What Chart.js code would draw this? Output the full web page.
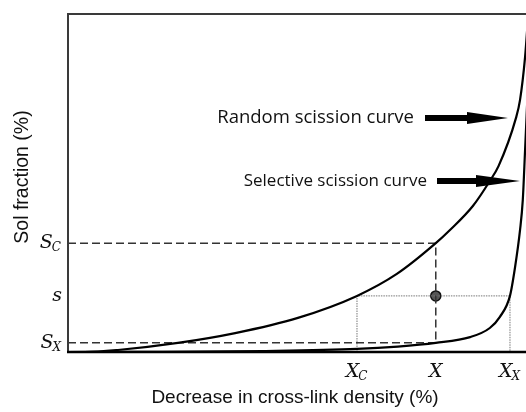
<!DOCTYPE html>
<html lang="en">
<head>
    <meta charset="UTF-8">
    <title>Sol fraction vs cross-link density</title>
    <script src="https://cdn.jsdelivr.net/npm/chart.js"></script>
    <style>
        html, body { margin: 0; padding: 0; background: #fff; }
        #wrap { width: 526px; height: 412px; }
    </style>
</head>
<body>
    <div id="wrap"><canvas id="solChart" width="526" height="412"></canvas></div>

    <script>
        // Random scission curve (x = decrease in cross-link density, y = sol fraction)
        const randomX = [0, 3.7, 10.9, 24.0, 36.5, 50.2, 63.1, 71.8, 80.3, 83.4, 88.4, 92.1, 94.0, 97.8, 98.7, 99.8, 100.5];
        const randomY = [0, 0, 0.6, 2.7, 5.6, 10.1, 16.6, 23.1, 32.2, 36.1, 43.2, 50.6, 55.0, 69.2, 74.6, 87.3, 100];

        // Selective scission curve
        const selectiveX = [0, 20.0, 42.6, 63.1, 72.0, 80.3, 87.8, 92.1, 94.3, 96.5, 97.6, 98.7, 99.3, 99.8, 100.3];
        const selectiveY = [0, 0.05, 0.3, 0.9, 1.6, 2.7, 4.4, 7.1, 10.4, 16.6, 25.0, 36.1, 45.0, 59.8, 75.0];

        // marked positions on the axes
        const xTickValues = [63.1, 80.3, 96.5];
        const xTickLabels = ['X_C', 'X', 'X_X'];
        const yTickValues = [32.2, 16.6, 2.7];
        const yTickLabels = ['S_C', 's', 'S_X'];

        const Xc = xTickValues[0], X = xTickValues[1], Xx = xTickValues[2];
        const Sc = yTickValues[0], s = yTickValues[1], Sx = yTickValues[2];

        function toPoints(xs, ys) {
            return xs.map((x, i) => ({ x: x, y: ys[i] }));
        }

        // draws the frame, the S/X labels, the axis titles and the two arrows
        const decorations = {
            id: 'decorations',
            afterDraw(chart) {
                const ctx = chart.ctx;
                const area = chart.chartArea;
                const xs = chart.scales.x;
                const ys = chart.scales.y;

                ctx.save();

                // frame
                ctx.strokeStyle = '#3a3a3a';
                ctx.lineWidth = 2;
                ctx.beginPath();
                ctx.moveTo(area.left, area.bottom);
                ctx.lineTo(area.left, area.top);
                ctx.lineTo(area.right + 2, area.top);
                ctx.stroke();
                ctx.strokeStyle = '#000';
                ctx.lineWidth = 2.5;
                ctx.beginPath();
                ctx.moveTo(area.left - 1, area.bottom);
                ctx.lineTo(area.right + 2, area.bottom);
                ctx.stroke();

                // italic labels with a subscript
                function subLabel(text, px, py, align) {
                    const parts = text.split('_');
                    const main = parts[0], sub = parts[1] || '';
                    ctx.font = 'italic 19px "DejaVu Serif"';
                    const w1 = ctx.measureText(main).width;
                    ctx.font = 'italic 12px "DejaVu Serif"';
                    const w2 = ctx.measureText(sub).width;
                    let x0 = px;
                    if (align === 'center') x0 = px - (w1 + w2) / 2;
                    if (align === 'right') x0 = px - (w1 + w2);
                    ctx.fillStyle = '#111';
                    ctx.textAlign = 'left';
                    ctx.textBaseline = 'middle';
                    ctx.font = 'italic 19px "DejaVu Serif"';
                    ctx.fillText(main, x0, py);
                    if (sub) {
                        ctx.font = 'italic 12px "DejaVu Serif"';
                        ctx.fillText(sub, x0 + w1 - 1, py + 5);
                    }
                }

                yTickValues.forEach((v, i) => {
                    subLabel(yTickLabels[i], area.left - 6, ys.getPixelForValue(v), 'right');
                });
                xTickValues.forEach((v, i) => {
                    subLabel(xTickLabels[i], xs.getPixelForValue(v), area.bottom + 20, 'center');
                });

                // axis titles
                ctx.fillStyle = '#111';
                ctx.font = '19px "Liberation Sans"';
                ctx.textAlign = 'center';
                ctx.textBaseline = 'middle';
                ctx.fillText('Decrease in cross-link density (%)', 295, 398);
                ctx.save();
                ctx.translate(23, 177);
                ctx.rotate(-Math.PI / 2);
                ctx.font = '19.5px "Liberation Sans"';
                ctx.fillText('Sol fraction (%)', 0, 0);
                ctx.restore();

                // curve names with arrows
                ctx.textAlign = 'right';
                ctx.font = '18.5px "Open Sans"';
                ctx.fillText('Random scission curve', 414, 118);
                ctx.font = '17px "Open Sans"';
                ctx.fillText('Selective scission curve', 427, 181);

                function arrow(x0, x1, xh, y) {
                    ctx.fillStyle = '#000';
                    ctx.fillRect(x0, y - 3, xh - x0 + 1, 6);
                    ctx.beginPath();
                    ctx.moveTo(xh, y - 6);
                    ctx.lineTo(x1, y);
                    ctx.lineTo(xh, y + 6);
                    ctx.closePath();
                    ctx.fill();
                }
                arrow(425, 508, 467, 118);
                arrow(437, 520, 476, 181);

                ctx.restore();
            }
        };

        const ctx = document.getElementById('solChart').getContext('2d');
        const solChart = new Chart(ctx, {
            type: 'line',
            data: {
                datasets: [
                    {
                        label: 'Random scission',
                        data: toPoints(randomX, randomY),
                        borderColor: '#000',
                        borderWidth: 2.2,
                        pointRadius: 0,
                        cubicInterpolationMode: 'monotone'
                    },
                    {
                        label: 'Selective scission',
                        data: toPoints(selectiveX, selectiveY),
                        borderColor: '#000',
                        borderWidth: 2.2,
                        pointRadius: 0,
                        cubicInterpolationMode: 'monotone'
                    },
                    {
                        // S_C and X guide
                        data: [{ x: 0, y: Sc }, { x: X, y: Sc }, { x: X, y: Sx }],
                        borderColor: '#333',
                        borderWidth: 1.5,
                        borderDash: [8, 4],
                        pointRadius: 0,
                        tension: 0
                    },
                    {
                        // S_X guide
                        data: [{ x: 0, y: Sx }, { x: X, y: Sx }],
                        borderColor: '#333',
                        borderWidth: 1.5,
                        borderDash: [8, 4],
                        pointRadius: 0,
                        tension: 0
                    },
                    {
                        // s level between X_C and X_X
                        data: [{ x: Xc, y: 0 }, { x: Xc, y: s }, { x: Xx, y: s }, { x: Xx, y: 0 }],
                        borderColor: '#777',
                        borderWidth: 1,
                        borderDash: [1.5, 1],
                        pointRadius: 0,
                        tension: 0
                    },
                    {
                        data: [{ x: X, y: s }],
                        showLine: false,
                        pointRadius: 5,
                        pointBackgroundColor: '#555',
                        pointBorderColor: '#111',
                        pointBorderWidth: 1.5
                    }
                ]
            },
            options: {
                responsive: false,
                animation: false,
                layout: { autoPadding: false, padding: { left: 68, top: 14, right: 0, bottom: 60 } },
                plugins: {
                    legend: { display: false },
                    tooltip: { enabled: false }
                },
                scales: {
                    x: { type: 'linear', min: 0, max: 100, display: false },
                    y: { type: 'linear', min: 0, max: 100, display: false }
                }
            },
            plugins: [decorations]
        });
    </script>
</body>
</html>
